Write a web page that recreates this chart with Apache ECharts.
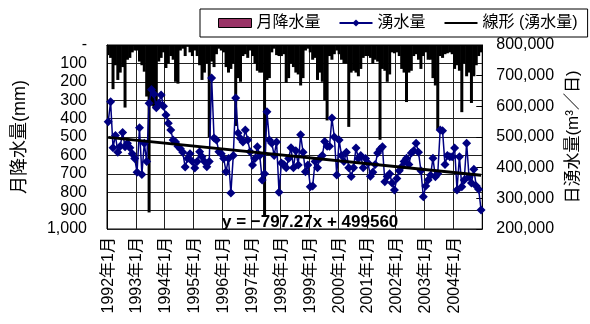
<!DOCTYPE html>
<html><head><meta charset="utf-8">
<script src="https://cdn.jsdelivr.net/npm/echarts@6/dist/echarts.min.js"></script>
<style>html,body{margin:0;padding:0;background:#fff}#c{width:590px;height:324px}</style>
</head><body><div id="c"></div>
<script>
// ---- data ----
const years = [1992,1993,1994,1995,1996,1997,1998,1999,2000,2001,2002,2003,2004];
const months = [1,2,3,4,5,6,7,8,9,10,11,12];
// 月降水量 (mm), monthly, Jan 1992 .. Dec 2004
const rain = [
  55, 70, 240, 110, 190, 150, 120, 340, 80, 70, 40, 30,
  30, 90, 110, 145, 280, 910, 330, 340, 320, 90, 70, 40,
  125, 100, 60, 80, 200, 210, 30, 20, 60, 10, 40, 60,
  30, 60, 110, 190, 150, 100, 500, 90, 120, 50, 20, 30,
  40, 120, 150, 130, 100, 440, 180, 200, 60, 50, 70, 30,
  60, 100, 140, 150, 150, 925, 190, 180, 40, 20, 55, 60,
  60, 50, 205, 180, 100, 120, 150, 160, 220, 180, 30, 20,
  40, 80, 70, 190, 150, 200, 300, 410, 60, 80, 50, 30,
  50, 80, 100, 100, 445, 150, 140, 150, 170, 130, 70, 60,
  60, 70, 100, 80, 90, 515, 130, 140, 200, 160, 40, 45,
  40, 60, 130, 150, 310, 150, 140, 60, 50, 80, 130, 60,
  40, 80, 80, 180, 220, 460, 60, 70, 50, 45, 40, 50,
  130, 110, 140, 365, 100, 170, 150, 315, 170, 110, 60, 40
];
// 湧水量 (m3/日), monthly
const spring = [
  550000,615000,465000,505000,450000,470000,515000,468000,480000,465000,445000,430000,
  385000,530000,378000,480000,420000,610000,655000,640000,595000,610000,637000,600000,
  572000,545000,523000,490000,484000,470000,462000,450000,402000,430000,445000,420000,
  399000,420000,452000,436000,420000,403000,420000,692000,497000,490000,452000,445000,
  430000,387000,430000,317000,440000,627000,513000,495000,484000,523000,490000,452000,
  409000,430000,468000,440000,360000,380000,582000,490000,480000,440000,484000,320000,
  415000,410000,400000,430000,465000,400000,455000,409000,507000,450000,387000,409000,
  338000,340000,420000,400000,430000,440000,485000,470000,470000,562000,500000,376000,
  490000,440000,420000,450000,400000,371000,400000,464000,430000,440000,400000,430000,
  415000,372000,385000,410000,448000,460000,468000,354000,371000,380000,350000,327000,
  365000,390000,403000,420000,431000,410000,448000,455000,480000,450000,390000,305000,
  340000,360000,375000,431000,370000,380000,523000,520000,410000,440000,436000,436000,
  464000,327000,436000,338000,360000,480000,370000,350000,395000,340000,330000,262000
];
// 線形 (湧水量): y = -797.27x + 499560, endpoints at x=1 and x=156
const trendStart = 498763;
const trendEnd = 375186;
const equationText = 'y = \u2212797.27x + 499560';
const leftTicks = {min: 0, max: 1000, step: 100};
const rightTicks = {min: 200000, max: 800000, step: 100000};

// ---- build ----
const categories = [];
years.forEach(y => months.forEach(m => categories.push(y + '年' + m + '月')));
const trend = categories.map((_, i) => i === 0 ? trendStart : (i === categories.length - 1 ? trendEnd : null));

const FONT = "'Liberation Sans', 'Noto Sans CJK JP', sans-serif";
const chart = echarts.init(document.getElementById('c'), null, {renderer: 'canvas'});
chart.setOption({
  animation: false,
  backgroundColor: '#fff',
  textStyle: {fontFamily: FONT, color: '#000'},
  grid: {left: 107, right: 107, top: 45, bottom: 95, show: true, borderColor: '#000', borderWidth: 1, containLabel: false},
  legend: {
    left: 200, top: 9, padding: [6, 10, 6, 18],
    borderColor: '#000', borderWidth: 1, itemGap: 18, itemWidth: 33, itemHeight: 9,
    textStyle: {fontFamily: FONT, fontSize: 16, color: '#000', padding: [0,0,0,0]},
    data: [
      {name: '月降水量', icon: 'rect', itemStyle: {color: '#993366', borderColor: '#000', borderWidth: 1}},
      {name: '湧水量'},
      {name: '線形 (湧水量)', itemStyle: {opacity: 0}}
    ]
  },
  xAxis: {
    type: 'category', data: categories, boundaryGap: true,
    axisLine: {show: true, lineStyle: {color: '#000', width: 1}},
    axisTick: {show: false},
    axisLabel: {interval: 11, rotate: 90, fontSize: 16, color: '#000', fontFamily: FONT, margin: 8},
    splitLine: {show: true, interval: 11, lineStyle: {color: '#222', width: 1}}
  },
  yAxis: [
    {
      type: 'value', inverse: true, min: leftTicks.min, max: leftTicks.max, interval: leftTicks.step,
      position: 'left',
      name: '月降水量(mm)', nameLocation: 'middle', nameRotate: 90, nameGap: 78,
      nameTextStyle: {fontSize: 18, color: '#000', fontFamily: FONT},
      axisLine: {show: true, lineStyle: {color: '#000'}},
      axisTick: {show: false},
      axisLabel: {fontSize: 16, color: '#000', margin: 20, fontFamily: FONT,
        formatter: v => v === 0 ? '-' : v.toLocaleString('en-US')},
      splitLine: {show: true, lineStyle: {color: '#222', width: 1}}
    },
    {
      type: 'value', min: rightTicks.min, max: rightTicks.max, interval: rightTicks.step,
      position: 'right',
      name: '日湧水量(m³／日)', nameLocation: 'middle', nameRotate: 90, nameGap: 82,
      nameTextStyle: {fontSize: 17, color: '#000', fontFamily: FONT},
      axisLine: {show: true, lineStyle: {color: '#000'}},
      axisTick: {show: true, inside: true, length: 6, lineStyle: {color: '#000'}},
      axisLabel: {fontSize: 16, color: '#000', margin: 14, fontFamily: FONT,
        formatter: v => v.toLocaleString('en-US')},
      splitLine: {show: false}
    }
  ],
  series: [
    {
      name: '月降水量', type: 'bar', yAxisIndex: 0, data: rain,
      barWidth: 3, itemStyle: {color: '#000'}, z: 2
    },
    {
      name: '湧水量', type: 'line', yAxisIndex: 1, data: spring,
      symbol: 'diamond', symbolSize: 9, showSymbol: true, showAllSymbol: true,
      lineStyle: {color: '#000080', width: 1.5}, itemStyle: {color: '#000080'}, z: 3
    },
    {
      name: '線形 (湧水量)', type: 'line', yAxisIndex: 1, data: trend, connectNulls: true,
      symbol: 'none', lineStyle: {color: '#000', width: 3}, itemStyle: {color: '#000'}, z: 4
    }
  ],
  graphic: [{
    type: 'text', left: 222, top: 214, z: 10,
    style: {text: equationText, font: 'bold 17px ' + FONT, fill: '#000'}
  }]
});
</script></body></html>
